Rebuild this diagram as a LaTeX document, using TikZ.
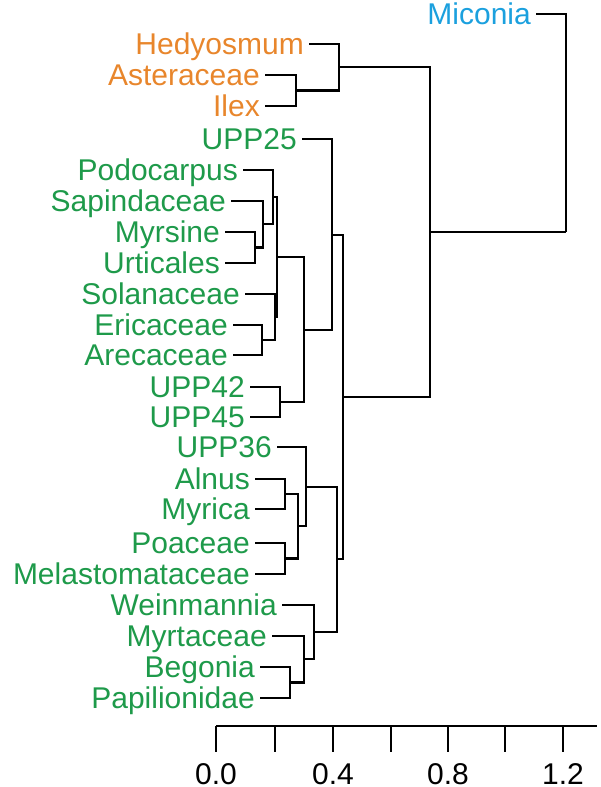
\documentclass[tikz,border=0pt]{standalone}
\usepackage{fontspec}
\setmainfont{Liberation Sans}
\definecolor{dgOrange}{HTML}{E8862C}
\definecolor{dgGreen}{HTML}{1E9A4A}
\definecolor{dgBlue}{HTML}{1BA0DE}
\usetikzlibrary{positioning}

\begin{document}
\begin{tikzpicture}[x=1pt,y=-1pt,
  leaf/.style={anchor=base east, inner xsep=5pt, inner ysep=0pt, font=\fontsize{30}{30}\selectfont},
  br/.style={line width=2.4pt, black},
  tick/.style={line width=2.4pt, black}
]
  \useasboundingbox (0,0) rectangle (600,787);
  % leaves
  \foreach \n/\x/\y/\c/\t in {
    mic/536/14/dgBlue/Miconia, hed/309/44/dgOrange/Hedyosmum,
    ast/265/75/dgOrange/Asteraceae, ilx/265/106/dgOrange/Ilex,
    u25/302/139/dgGreen/UPP25, pod/243/170/dgGreen/Podocarpus,
    sap/231/201/dgGreen/Sapindaceae, myr/225/232/dgGreen/Myrsine,
    urt/225/263/dgGreen/Urticales, sol/245/294/dgGreen/Solanaceae,
    eri/233/325/dgGreen/Ericaceae, are/233/355/dgGreen/Arecaceae,
    u42/250/387/dgGreen/UPP42, u45/250/417/dgGreen/UPP45,
    u36/277/447/dgGreen/UPP36, aln/255/479/dgGreen/Alnus,
    myc/255/509/dgGreen/Myrica, poa/255/543/dgGreen/Poaceae,
    mel/255/574/dgGreen/Melastomataceae, wei/282/605/dgGreen/Weinmannia,
    mrt/272/636/dgGreen/Myrtaceae, beg/260/667/dgGreen/Begonia,
    pap/260/698/dgGreen/Papilionidae}
  {
    \coordinate (\n) at (\x,\y);
    \node[leaf, text=\c] (\n-t) at (\x,\y+10.5) {\t};
  }
  % joins
  \coordinate (j1) at (296,90.5);
  \coordinate (j2) at (339,67);
  \coordinate (j3) at (255,247.5);
  \coordinate (j4) at (263,224);
  \coordinate (j5) at (273,197);
  \coordinate (j6) at (262,340);
  \coordinate (j7) at (275,317);
  \coordinate (j8) at (277,257);
  \coordinate (j9) at (280,402);
  \coordinate (j10) at (304,330);
  \coordinate (j11) at (332,235);
  \coordinate (j12) at (285,494);
  \coordinate (j13) at (285,558.5);
  \coordinate (j14) at (298,526);
  \coordinate (j15) at (306,487);
  \coordinate (j16) at (290,682.5);
  \coordinate (j17) at (304,659);
  \coordinate (j18) at (314,632);
  \coordinate (j19) at (337,559);
  \coordinate (j20) at (343,397);
  \coordinate (j21) at (430,232);
  \coordinate (root) at (566,232);
  \foreach \a/\b in {ast/j1, ilx/j1, hed/j2, j1/j2, myr/j3, urt/j3,
      sap/j4, j3/j4, pod/j5, j4/j5, eri/j6, are/j6, sol/j7, j6/j7,
      j5/j8, j7/j8, u42/j9, u45/j9, j8/j10, j9/j10, u25/j11, j10/j11,
      aln/j12, myc/j12, poa/j13, mel/j13, j12/j14, j13/j14, u36/j15,
      j14/j15, beg/j16, pap/j16, mrt/j17, j16/j17, wei/j18, j17/j18,
      j15/j19, j18/j19, j11/j20, j19/j20, j2/j21, j20/j21,
      mic/root, j21/root}
    \draw[br] (\a) -| (\b);
  % axis
  \coordinate (ax0) at (216,726);
  \coordinate (ax1) at (597,726);
  \draw[tick] (ax0) -- (ax1);
  \foreach \x in {216,275,333,391,448,505,563}
    \draw[tick] (\x,726) -- (\x,752);
  \foreach \x/\t in {216/0.0,333/0.4,448/0.8,563/1.2}
    \node[font=\fontsize{30}{30}\selectfont] (t\x) at (\x,774) {\t};
\end{tikzpicture}
\end{document}
